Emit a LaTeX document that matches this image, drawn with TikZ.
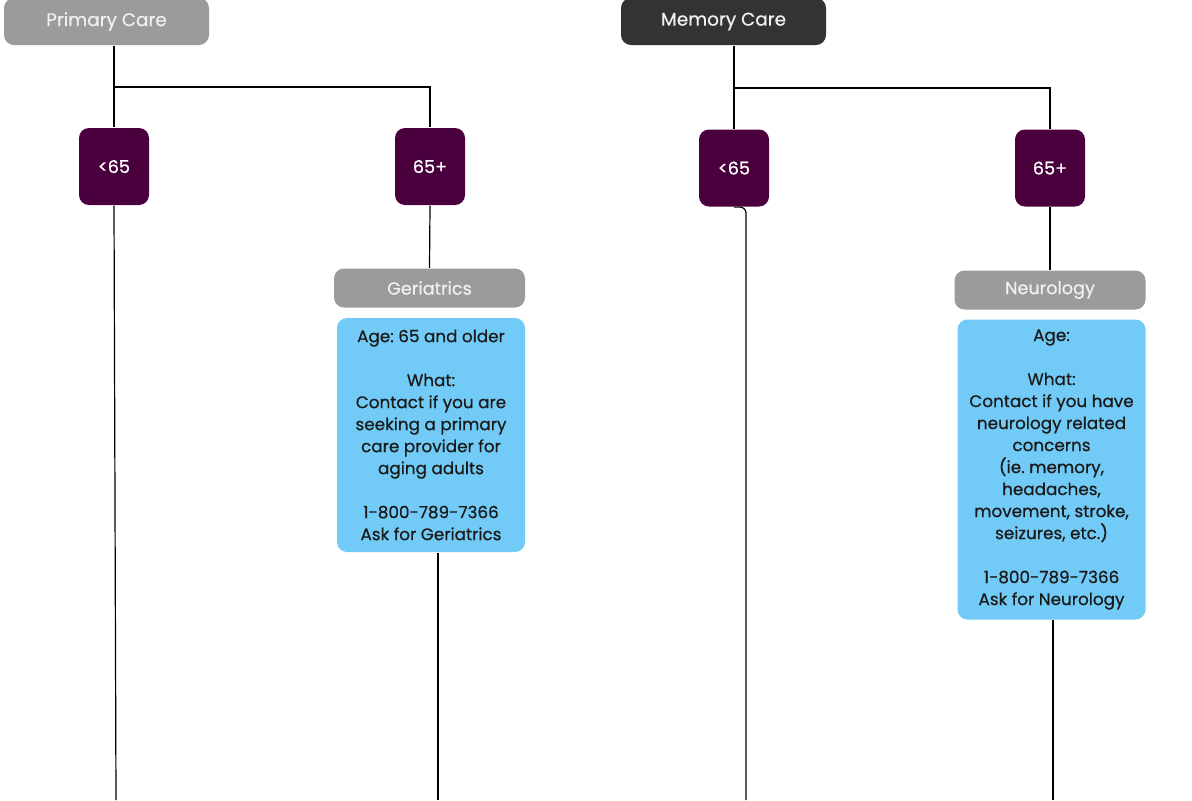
\documentclass[tikz,border=0pt]{standalone}
\usepackage{fontspec}
\setmainfont{Poppins}
\frenchspacing
\definecolor{headgray}{HTML}{9B9B9B}
\definecolor{headdark}{HTML}{333333}
\definecolor{agepurple}{HTML}{4B003E}
\definecolor{infoblue}{HTML}{72CBF7}
\definecolor{infotext}{HTML}{1A1A1A}
\newcommand{\medw}{\addfontfeature{FakeBold=0.6}}
\begin{document}
\begin{tikzpicture}[x=0.5pt,y=-0.5pt,line width=0.6pt,
	head/.style={rounded corners=5pt,minimum width=102.5pt,minimum height=23.5pt,text=white!94!black,font=\fontsize{9.2}{10}\selectfont\medw},
	agebox/.style={fill=agepurple,rounded corners=5pt,minimum width=35pt,minimum height=38.5pt,text=white,font=\fontsize{8.8}{10}\selectfont\medw},
	dept/.style={fill=headgray,rounded corners=5pt,minimum width=95.5pt,minimum height=19.5pt,text=white!94!black,font=\fontsize{8.8}{10}\selectfont\medw},
	info/.style={fill=infoblue,rounded corners=5pt,minimum width=94pt,align=center,text=infotext,font=\fontsize{8.4}{11}\selectfont\medw}]
	\clip (0,0) rectangle (1192,800);
	% primary care side
	\node[head,fill=headgray] (pcare) at (106.5,21.5) {Primary Care};
	\node[agebox] (young1) at (114,166.5) {<65};
	\node[agebox] (old1) at (430,166.5) {65+};
	\node[dept] (geri) at (429.5,288) {Geriatrics};
	\node[info,minimum height=117pt] (gerinfo) at (431,435) {Age: 65 and older\\ \mbox{}\\ What:\\ Contact if you are\\ seeking a primary\\ care provider for\\ aging adults\\ \mbox{}\\ 1-800-789-7366\\ Ask for Geriatrics};
	% memory care side
	\node[head,fill=headdark] (mcare) at (723.5,21.5) {Memory Care};
	\node[agebox] (young2) at (734,168) {<65};
	\node[agebox] (old2) at (1050,168) {65+};
	\node[dept] (neuro) at (1050,290) {Neurology};
	\node[info,minimum height=150pt] (neuroinfo) at (1051.5,469.5) {Age:\\ \mbox{}\\ What:\\ Contact if you have\\ neurology related\\ concerns\\ (ie. memory,\\ headaches,\\ movement, stroke,\\ seizures, etc.)\\ \mbox{}\\ 1-800-789-7366\\ Ask for Neurology};
	% loose ends at the bottom edge
	\coordinate (end1) at (116,800);
	\coordinate (end2) at (438,800);
	\coordinate (end3) at (746,800);
	\coordinate (end4) at (1053,800);
	% connectors
	\draw (young1.north |- pcare.south) -- (young1.north);
	\draw (young1.north |- 0,87) -| (old1.north);
	\draw (young1.south) -- (end1);
	\draw (old1.south) -- (geri.north);
	\draw (end2 |- gerinfo.south) -- (end2);
	\draw (young2.north |- mcare.south) -- (young2.north);
	\draw (young2.north |- 0,88) -| (old2.north);
	\draw[rounded corners=3pt] (young2.south) -| (end3);
	\draw (old2.south) -- (neuro.north);
	\draw (end4 |- neuroinfo.south) -- (end4);
\end{tikzpicture}
\end{document}
